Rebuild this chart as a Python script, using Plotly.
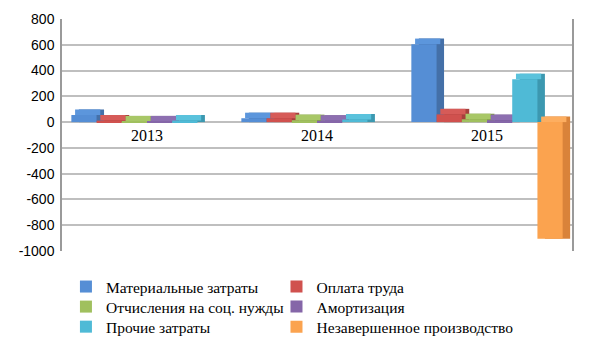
import plotly.graph_objects as go

years = ["2013", "2014", "2015"]
series_names = [
    "Материальные затраты",
    "Оплата труда",
    "Отчисления на соц. нужды",
    "Амортизация",
    "Прочие затраты",
    "Незавершенное производство",
]
mat = [55, 30, 605]
pay = [12, 30, 60]
soc = [5, 15, 22]
amort = [5, 10, 15]
other = [12, 20, 333]
wip = [0, 0, -905]
values = [mat, pay, soc, amort, other, wip]
colors = ["#558ED5", "#D0514E", "#A0C05E", "#8566A8", "#4FBAD6", "#FBA34F"]
top_colors = ["#5C96DC", "#D65B58", "#A8C767", "#8D6FB0", "#5AC2DC", "#FDAE60"]
side_colors = ["#4470A8", "#A63F3C", "#7F9A47", "#6A5087", "#3C98B0", "#D9833A"]
y_ticks = [800, 600, 400, 200, 0, -200, -400, -600, -800, -1000]
label_base = [0, 0, 0]

SERIF = "Liberation Serif"

# style constants for the pseudo-3D look
BARGAP = 0.11
N = len(series_names)
W = (1 - BARGAP) / N          # bar width in category units
DX = 0.044                    # depth shift (category units)
DEPTH = 43                    # depth shift (value units)

# legend slot layout: (column x, row y) in container fractions
leg_x = [0.109, 0.457]
leg_y = [0.156, 0.097, 0.038]

fig = go.Figure()
legend_layout = {}
for i, (name, vals, c, tc, sc) in enumerate(zip(series_names, values, colors,
                                                top_colors, side_colors)):
    off = -(1 - BARGAP) / 2 + i * W
    nz = [v != 0 for v in vals]
    # side face body
    lo = [min(0, v) if k else None for v, k in zip(vals, nz)]
    hi = [max(0, v) + DEPTH if k else None for v, k in zip(vals, nz)]
    span = [None if a is None else b - a for a, b in zip(lo, hi)]
    fig.add_trace(go.Bar(
        x=years, y=span, base=lo, offset=off + DX, width=W,
        marker=dict(color=sc, line=dict(width=0)),
        showlegend=False, hoverinfo="skip",
    ))
    # top face
    top_base = [max(0, v) if k else None for v, k in zip(vals, nz)]
    top_h = [DEPTH if k else None for k in nz]
    fig.add_trace(go.Bar(
        x=years, y=top_h, base=top_base, offset=off + DX / 2, width=W,
        marker=dict(color=tc, line=dict(width=0)),
        showlegend=False, hoverinfo="skip",
    ))
    lg = "legend" if i == 0 else f"legend{i + 1}"
    fig.add_trace(go.Bar(
        x=years, y=vals, name=name, legend=lg, offset=off, width=W,
        marker=dict(color=c, line=dict(width=0)),
    ))
    legend_layout[lg] = dict(
        orientation="v", xref="container", yref="container",
        x=leg_x[i % 2], y=leg_y[i // 2], xanchor="left", yanchor="middle",
        font=dict(family=SERIF, size=15.5, color="#000"),
        itemwidth=30, bgcolor="rgba(0,0,0,0)",
    )

fig.add_trace(go.Scatter(
    x=years, y=label_base, text=years, mode="markers+text", textposition="bottom center",
    marker=dict(size=10, opacity=0),
    textfont=dict(family=SERIF, size=16, color="#000"), showlegend=False,
    hoverinfo="skip",
))

fig.update_layout(
    width=605, height=340,
    margin=dict(l=62, r=33, t=19, b=89, autoexpand=False),
    paper_bgcolor="white", plot_bgcolor="white",
    barmode="overlay",
    showlegend=True,
    xaxis=dict(type="category", showticklabels=False, showgrid=False,
               zeroline=False, showline=False, range=[-0.5, 2.5]),
    yaxis=dict(
        range=[-1000, 800], tickvals=y_ticks, ticktext=[str(v) for v in y_ticks],
        showgrid=True, gridcolor="#BFBFBF", gridwidth=1.5,
        zeroline=True, zerolinecolor="#BFBFBF", zerolinewidth=1.5,
        showline=True, linecolor="#9A9A9A", linewidth=1.5, mirror=True,
        tickfont=dict(family="Liberation Sans", size=14, color="#000"),
        ticks="", ticklabelstandoff=3,
    ),
    **legend_layout,
)

fig.write_html("out.html")
